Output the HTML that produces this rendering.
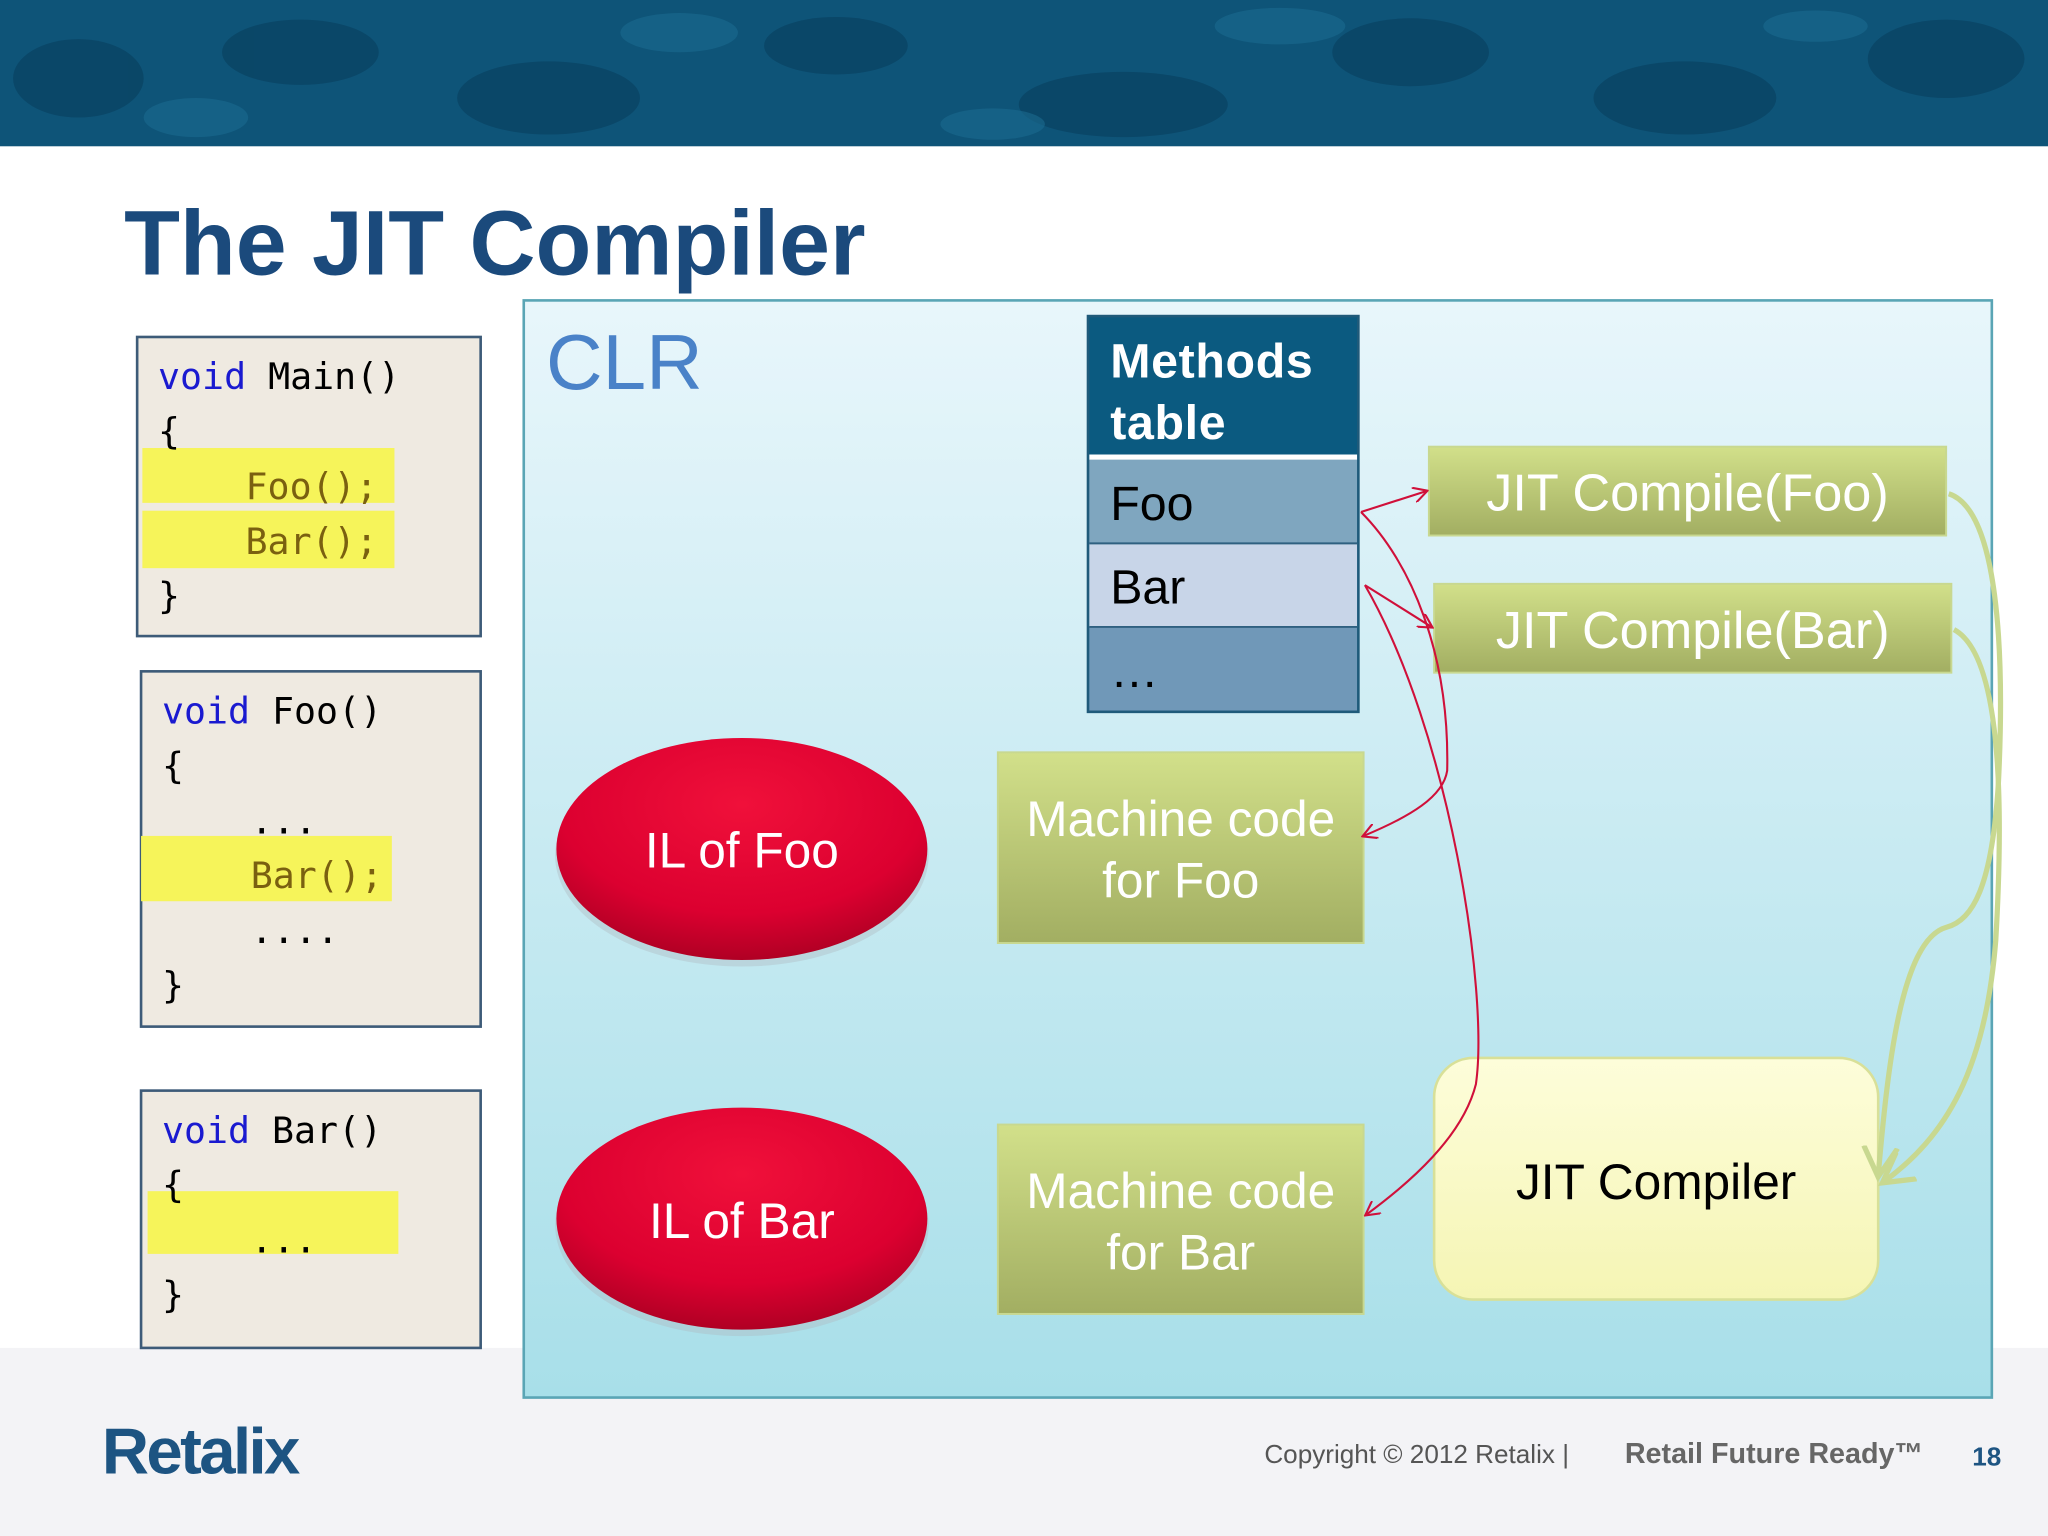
<!DOCTYPE html>
<html><head><meta charset="utf-8"><style>
html,body{margin:0;padding:0;width:2048px;height:1536px;overflow:hidden;background:#fff}
svg{display:block}
text{font-family:"Liberation Sans",sans-serif}
.mono{font-family:"DejaVu Sans Mono","Liberation Mono",monospace;font-size:28px}
</style></head><body>
<svg width="2048" height="1536" viewBox="0 0 1568 1176" xmlns="http://www.w3.org/2000/svg">
<defs>
<linearGradient id="clr" x1="0" y1="0" x2="0" y2="1"><stop offset="0" stop-color="#e8f6fb"/><stop offset="1" stop-color="#a8dfe9"/></linearGradient>
<linearGradient id="grn" x1="0" y1="0" x2="0" y2="1"><stop offset="0" stop-color="#d2e08a"/><stop offset="1" stop-color="#a2ae62"/></linearGradient>
<radialGradient id="red" cx="0.5" cy="0.3" r="0.7"><stop offset="0" stop-color="#f0103a"/><stop offset="0.7" stop-color="#dc0030"/><stop offset="1" stop-color="#b00024"/></radialGradient>
<linearGradient id="jc" x1="0" y1="0" x2="0" y2="1"><stop offset="0" stop-color="#fdfdda"/><stop offset="1" stop-color="#f5f5b4"/></linearGradient>
<marker id="ar" markerWidth="12" markerHeight="12" refX="10" refY="6" orient="auto" markerUnits="userSpaceOnUse"><path d="M0,0 L11,6 L0,12" fill="none" stroke="#d0103a" stroke-width="1.6"/></marker>
<marker id="ag" markerWidth="30" markerHeight="30" refX="22" refY="15" orient="auto" markerUnits="userSpaceOnUse"><path d="M0,2 L23,15 L0,28" fill="none" stroke="#c8d890" stroke-width="4"/></marker>
</defs>
<rect x="0" y="0" width="1568" height="112" fill="#0e5478"/>
<g fill="#0a4464" opacity="0.8">
<ellipse cx="60" cy="60" rx="50" ry="30"/><ellipse cx="230" cy="40" rx="60" ry="25"/><ellipse cx="420" cy="75" rx="70" ry="28"/>
<ellipse cx="640" cy="35" rx="55" ry="22"/><ellipse cx="860" cy="80" rx="80" ry="25"/><ellipse cx="1080" cy="40" rx="60" ry="26"/>
<ellipse cx="1290" cy="75" rx="70" ry="28"/><ellipse cx="1490" cy="45" rx="60" ry="30"/>
</g>
<g fill="#1a6a90" opacity="0.6">
<ellipse cx="150" cy="90" rx="40" ry="15"/><ellipse cx="520" cy="25" rx="45" ry="15"/><ellipse cx="760" cy="95" rx="40" ry="12"/><ellipse cx="980" cy="20" rx="50" ry="14"/><ellipse cx="1390" cy="20" rx="40" ry="12"/>
</g>
<rect x="0" y="1032" width="1568" height="144" fill="#f3f3f6"/>
<text x="95" y="210" font-size="70" font-weight="bold" fill="#1b4a7c">The JIT Compiler</text>
<rect x="105" y="258" width="263" height="229" fill="#efeae1" stroke="#3d5b78" stroke-width="2"/>
<rect x="109" y="343" width="193" height="42" fill="#f6f45a"/>
<rect x="109" y="391" width="193" height="44" fill="#f6f45a"/>
<text class="mono" x="121" y="298"><tspan fill="#1a1ad0">void</tspan> Main()</text>
<text class="mono" x="121" y="340">{</text>
<text class="mono" x="188" y="382" fill="#7a6010">Foo();</text>
<text class="mono" x="188" y="424" fill="#7a6010">Bar();</text>
<text class="mono" x="121" y="466">}</text>
<rect x="108" y="514" width="260" height="272" fill="#efeae1" stroke="#3d5b78" stroke-width="2"/>
<rect x="108" y="640" width="192" height="50" fill="#f6f45a"/>
<text class="mono" x="124" y="554"><tspan fill="#1a1ad0">void</tspan> Foo()</text>
<text class="mono" x="124" y="596">{</text>
<text class="mono" x="192" y="638">...</text>
<text class="mono" x="192" y="680" fill="#7a6010">Bar();</text>
<text class="mono" x="192" y="722">....</text>
<text class="mono" x="124" y="764">}</text>
<rect x="108" y="835" width="260" height="197" fill="#efeae1" stroke="#3d5b78" stroke-width="2"/>
<rect x="113" y="912" width="192" height="48" fill="#f6f45a"/>
<text class="mono" x="124" y="875"><tspan fill="#1a1ad0">void</tspan> Bar()</text>
<text class="mono" x="124" y="917">{</text>
<text class="mono" x="192" y="959">...</text>
<text class="mono" x="124" y="1001">}</text>
<rect x="401" y="230" width="1124" height="840" fill="url(#clr)" stroke="#5aa5b5" stroke-width="2"/>
<text x="418" y="298" font-size="60" fill="#4a82c8">CLR</text>
<rect x="833" y="242" width="207" height="303" fill="#0b5a80" stroke="#1f5a7a" stroke-width="2"/>
<text x="850" y="289" font-size="37" font-weight="bold" fill="#fff" letter-spacing="0.5">Methods</text>
<text x="850" y="336" font-size="37" font-weight="bold" fill="#fff" letter-spacing="0.5">table</text>
<rect x="834" y="352" width="205" height="64" fill="#7fa6bf"/>
<rect x="834" y="416" width="205" height="64" fill="#c8d5e8"/>
<rect x="834" y="480" width="205" height="64" fill="#7098b8"/>
<line x1="834" y1="350" x2="1039" y2="350" stroke="#fff" stroke-width="4"/>
<line x1="834" y1="416" x2="1039" y2="416" stroke="#2f6080" stroke-width="1.5"/>
<line x1="834" y1="480" x2="1039" y2="480" stroke="#2f6080" stroke-width="1.5"/>
<text x="850" y="398" font-size="37" fill="#000">Foo</text>
<text x="850" y="462" font-size="37" fill="#000">Bar</text>
<text x="850" y="526" font-size="37" fill="#000">…</text>
<rect x="1094" y="342" width="396" height="68" fill="url(#grn)" stroke="#c8d890" stroke-width="1.5"/>
<text x="1292" y="391" font-size="40" fill="#fff" text-anchor="middle">JIT Compile(Foo)</text>
<rect x="1098" y="447" width="396" height="68" fill="url(#grn)" stroke="#c8d890" stroke-width="1.5"/>
<text x="1296" y="496" font-size="40" fill="#fff" text-anchor="middle">JIT Compile(Bar)</text>
<ellipse cx="568" cy="655" rx="143" ry="85" fill="#b0b8c0" opacity="0.4"/>
<ellipse cx="568" cy="650" rx="142" ry="85" fill="url(#red)"/>
<text x="568" y="664" font-size="38" fill="#fff" text-anchor="middle">IL of Foo</text>
<ellipse cx="568" cy="938" rx="143" ry="85" fill="#b0b8c0" opacity="0.4"/>
<ellipse cx="568" cy="933" rx="142" ry="85" fill="url(#red)"/>
<text x="568" y="948" font-size="38" fill="#fff" text-anchor="middle">IL of Bar</text>
<rect x="764" y="576" width="280" height="146" fill="url(#grn)" stroke="#c8d890" stroke-width="1.5"/>
<text x="904" y="640" font-size="38" fill="#fff" text-anchor="middle">Machine code</text>
<text x="904" y="687" font-size="38" fill="#fff" text-anchor="middle">for Foo</text>
<rect x="764" y="861" width="280" height="145" fill="url(#grn)" stroke="#c8d890" stroke-width="1.5"/>
<text x="904" y="925" font-size="38" fill="#fff" text-anchor="middle">Machine code</text>
<text x="904" y="972" font-size="38" fill="#fff" text-anchor="middle">for Bar</text>
<rect x="1098" y="810" width="340" height="185" rx="30" fill="url(#jc)" stroke="#d8e098" stroke-width="2"/>
<text x="1268" y="918" font-size="38" fill="#000" text-anchor="middle">JIT Compiler</text>
<g fill="none" stroke="#d0103a" stroke-width="1.6">
<path d="M1042,392 L1092,376" marker-end="url(#ar)"/>
<path d="M1042,392 C1080,430 1110,500 1108,590 C1105,610 1080,625 1044,640" marker-end="url(#ar)"/>
<path d="M1045,448 L1096,480" marker-end="url(#ar)"/>
<path d="M1045,448 C1110,560 1140,760 1130,830 C1120,870 1080,905 1046,930" marker-end="url(#ar)"/>
</g>
<g fill="none" stroke="#c8d890" stroke-width="4">
<path d="M1492,378 C1530,390 1535,500 1530,600 C1525,680 1510,705 1490,710 C1455,720 1445,820 1438,900" marker-end="url(#ag)"/>
<path d="M1496,482 C1530,500 1535,600 1528,720 C1520,820 1490,870 1442,905" marker-end="url(#ag)"/>
</g>
<text x="78" y="1128" font-size="50" font-weight="bold" fill="#1d5482" letter-spacing="-2">Retalix</text>
<text x="968" y="1120" font-size="20" fill="#555">Copyright © 2012 Retalix  |</text>
<text x="1244" y="1120" font-size="22" font-weight="bold" fill="#666">Retail Future Ready™</text>
<text x="1510" y="1122" font-size="20" font-weight="bold" fill="#1d5482">18</text>
</svg>
</body></html>
